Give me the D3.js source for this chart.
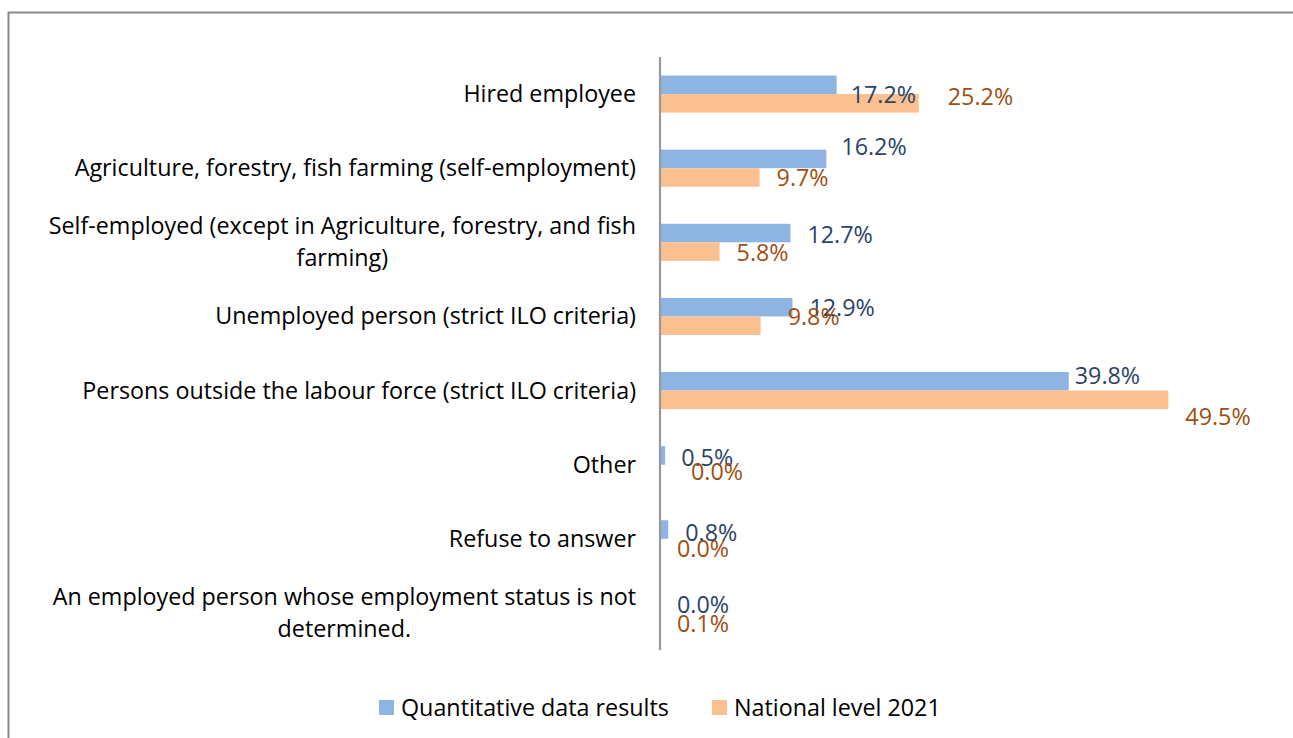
<!DOCTYPE html>
<html>
<head>
<meta charset="utf-8">
<script src="https://cdn.jsdelivr.net/npm/d3@7"></script>
<style>
  html, body { margin: 0; padding: 0; background: #fff; }
  svg { display: block; }
  text { font-family: "Open Sans", "Noto Sans", sans-serif; }
</style>
</head>
<body>
<svg id="chart" width="1293" height="738"></svg>
<script>
// Employment status: survey results vs. national level (percent)
const categories = [
  ["Hired employee"],
  ["Agriculture, forestry, fish farming (self-employment)"],
  ["Self-employed (except in Agriculture, forestry, and fish", "farming)"],
  ["Unemployed person (strict ILO criteria)"],
  ["Persons outside the labour force (strict ILO criteria)"],
  ["Other"],
  ["Refuse to answer"],
  ["An employed person whose employment status is not", "determined."]
];
const seriesNames = ["Quantitative data results", "National level 2021"];
const quantitative = [17.2, 16.2, 12.7, 12.9, 39.8, 0.5, 0.8, 0.0];
const national2021 = [25.2, 9.7, 5.8, 9.8, 49.5, 0.0, 0.0, 0.1];

// hand-placed data-label nudges [dx, dy] from the bar end / bar centre
const quantLabelNudge = [[14, 10], [15, -12], [17, 2], [17, 1], [6, -5], [16, 3], [17, 3], [17, 1.5]];
const natLabelNudge   = [[29, -6], [17, 1], [17, 1], [27, -9], [17, 17], [31, -2], [17, 1], [16, 2]];

const barColors = ["#8EB4E3", "#FAC090"];
const labelColors = ["#2A4468", "#9E4F12"];
const fontSize = 23.3;

const svg = d3.select("#chart");

// outer frame (cropped on the right and bottom)
svg.append("rect")
  .attr("x", 8.5).attr("y", 12.5)
  .attr("width", 1400).attr("height", 900)
  .attr("fill", "none").attr("stroke", "#8A8A8A").attr("stroke-width", 2);

const keys = categories.map((c, i) => i);
const y = d3.scaleBand().domain(keys).range([57, 650]).paddingInner(0.5).paddingOuter(0.25);
const ySub = d3.scaleBand().domain([0, 1]).range([0, y.bandwidth()]);
const x = d3.scaleLinear().domain([0, 50]).range([660, 1173.5]);

const series = [quantitative, national2021];
const nudges = [quantLabelNudge, natLabelNudge];

series.forEach((vals, s) => {
  const g = svg.append("g");
  g.selectAll("rect").data(vals).join("rect")
    .attr("x", x(0))
    .attr("y", (d, i) => y(i) + ySub(s))
    .attr("width", d => x(d) - x(0))
    .attr("height", ySub.bandwidth())
    .attr("fill", barColors[s]);
});

// category axis
const axis = svg.append("g").attr("transform", `translate(${x(0)},0)`)
  .call(d3.axisLeft(y).tickSize(0).tickFormat(""));
axis.select(".domain").attr("stroke", "#999").attr("stroke-width", 2.2)
  .attr("d", `M0,57V650`);

const lab = svg.append("g").attr("font-size", fontSize).attr("fill", "#000");
categories.forEach((lines, i) => {
  const cy = y(i) + y.bandwidth() / 2;
  const t = lab.append("text").attr("text-anchor", "middle");
  lines.forEach(ln => t.append("tspan").text(ln));
  // widest line sets the right edge; lines are centred within the block
  const tsp = t.selectAll("tspan");
  let maxW = 0;
  tsp.each(function () { maxW = Math.max(maxW, this.getComputedTextLength()); });
  const cx = 636 - maxW / 2;
  const n = lines.length;
  tsp.attr("x", cx).attr("y", (d, k) => cy + 8 + (k - (n - 1) / 2) * 32);
});

// data labels
series.forEach((vals, s) => {
  svg.append("g").selectAll("text").data(vals).join("text")
    .attr("x", (d, i) => x(d) + nudges[s][i][0])
    .attr("y", (d, i) => y(i) + ySub(s) + ySub.bandwidth() / 2 + nudges[s][i][1] + 8)
    .attr("font-size", fontSize)
    .attr("fill", labelColors[s])
    .text(d => d.toFixed(1) + "%");
});

// legend
const legend = svg.append("g");
const legendX = [379, 712];
seriesNames.forEach((name, s) => {
  legend.append("rect").attr("x", legendX[s]).attr("y", 700).attr("width", 15).attr("height", 15)
    .attr("fill", barColors[s]);
  legend.append("text").attr("x", legendX[s] + 22).attr("y", 716)
    .attr("font-size", fontSize).attr("fill", "#000").text(name);
});
</script>
</body>
</html>
